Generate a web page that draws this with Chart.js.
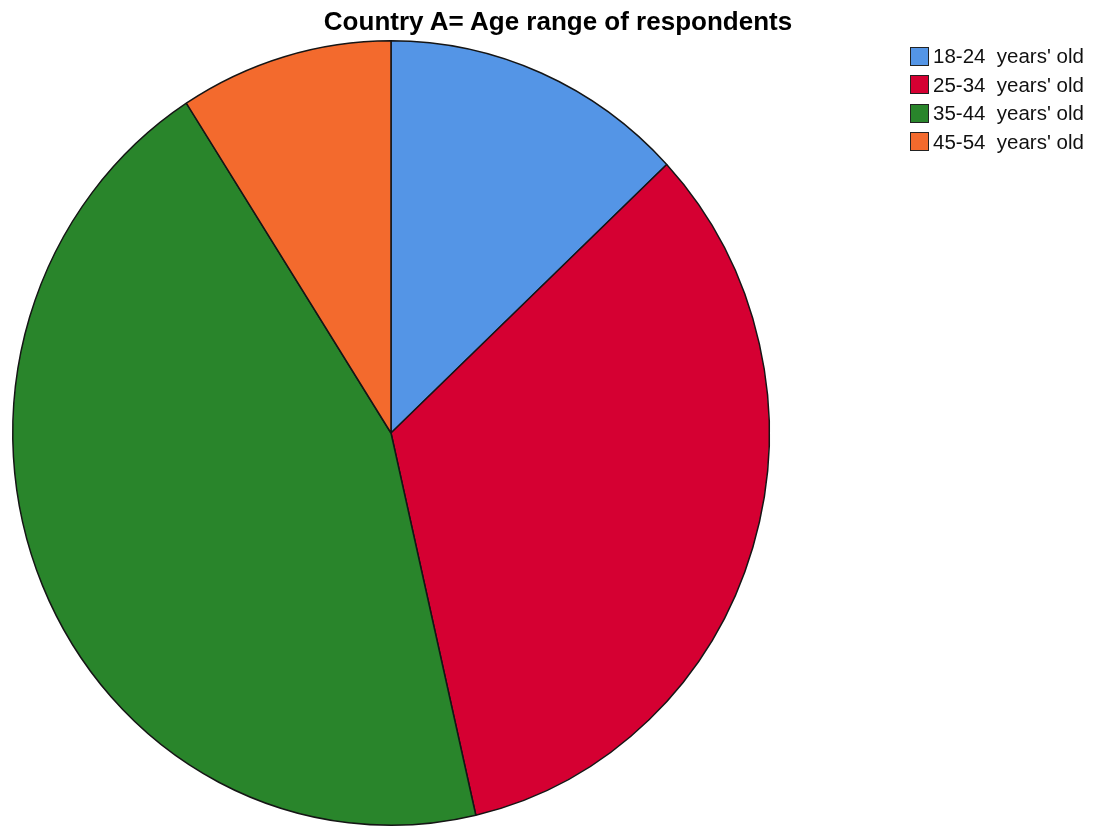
<!DOCTYPE html>
<html>
<head>
<meta charset="utf-8">
<script src="https://cdn.jsdelivr.net/npm/chart.js@4"></script>
<style>
  html, body { margin: 0; padding: 0; background: #ffffff; }
  #wrap { position: relative; width: 1094px; height: 832px; overflow: hidden; }
  #chart { position: absolute; left: 0; top: 0; }
  #title { position: absolute; left: 258px; width: 600px; top: 6px; text-align: center;
           font-family: "Liberation Sans", Arial, sans-serif; font-weight: bold; font-size: 26px;
           line-height: 30px; color: #000; white-space: nowrap; }
  #legend { position: absolute; left: 910px; top: 42px; font-family: "Liberation Sans", Arial, sans-serif;
            font-size: 20.5px; color: #111; }
  .item { height: 28.5px; display: flex; align-items: center; white-space: pre; }
  .box { width: 17px; height: 17px; border: 1px solid #222; margin-right: 4px; box-sizing: content-box; }
</style>
</head>
<body>
<div id="wrap">
  <canvas id="chart" width="1094" height="832"></canvas>
  <div id="title"></div>
  <div id="legend"></div>
</div>
<script>
const titleText = "Country A= Age range of respondents";
const categories = ["18-24 years' old", "25-34 years' old", "35-44 years' old", "45-54 years' old"];
const shares = [13.0, 33.4, 44.5, 9.1];
const colors = ["#5495E6", "#D50032", "#29852B", "#F36A2D"];

document.getElementById('title').textContent = titleText;
const legendEl = document.getElementById('legend');
categories.forEach((c, i) => {
  const row = document.createElement('div');
  row.className = 'item';
  const box = document.createElement('span');
  box.className = 'box';
  box.style.background = colors[i];
  const txt = document.createElement('span');
  txt.textContent = c.replace(' ', '  ');
  row.appendChild(box);
  row.appendChild(txt);
  legendEl.appendChild(row);
});

// stretch the pie vertically slightly to match the reference's ellipse
const ellipsePlugin = {
  id: 'ellipse',
  beforeDatasetsDraw(chart) {
    const arc = chart.getDatasetMeta(0).data[0];
    const ctx = chart.ctx;
    ctx.save();
    ctx.translate(arc.x, arc.y);
    ctx.scale(1, 393 / 379);
    ctx.translate(-arc.x, -arc.y);
  },
  afterDatasetsDraw(chart) {
    chart.ctx.restore();
  }
};

new Chart(document.getElementById('chart'), {
  type: 'pie',
  data: {
    labels: categories,
    datasets: [{
      data: shares,
      backgroundColor: colors,
      borderColor: '#151515',
      borderWidth: 1.5
    }]
  },
  options: {
    responsive: false,
    animation: false,
    layout: { padding: { left: 12, right: 324, top: 34, bottom: 0 } },
    plugins: {
      legend: { display: false },
      title: { display: false },
      tooltip: { enabled: false }
    }
  },
  plugins: [ellipsePlugin]
});
</script>
</body>
</html>
